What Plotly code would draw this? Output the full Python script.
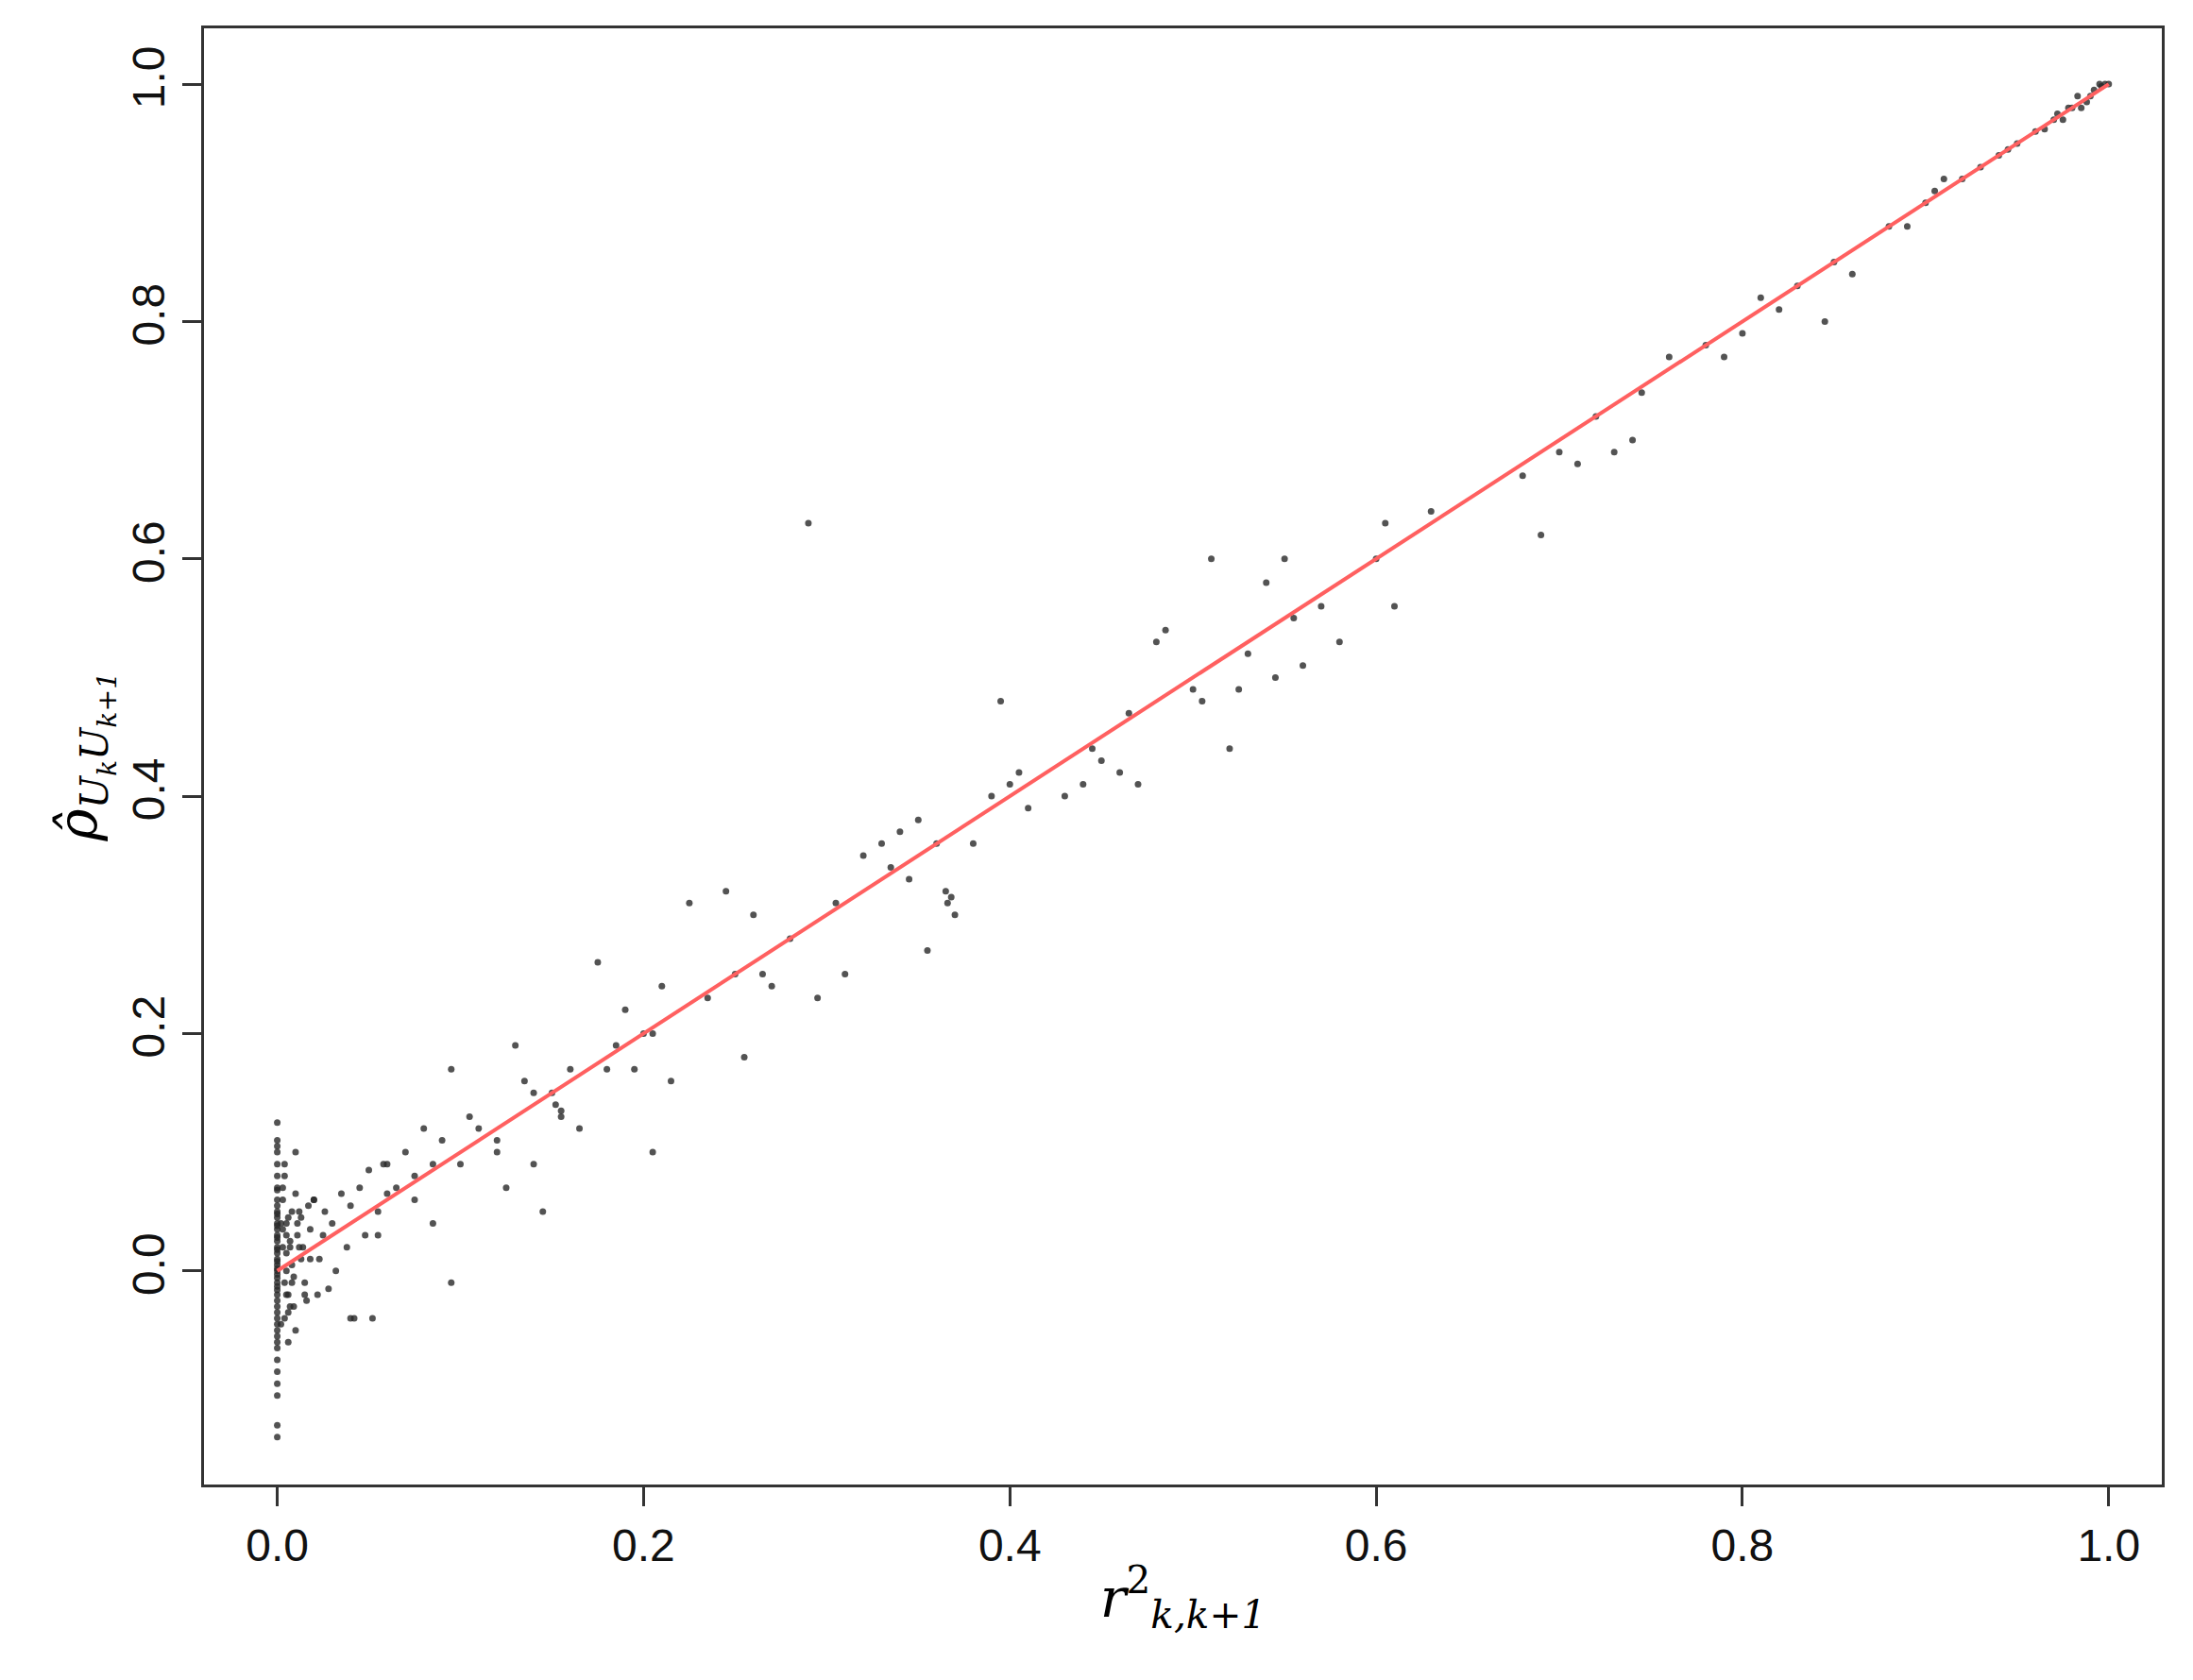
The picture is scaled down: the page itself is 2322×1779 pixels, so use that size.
import plotly.graph_objects as go

# points near x = 0 (vertical cluster)
x0 = [0.0]*48
y0 = [0.125,0.11,0.105,0.1,0.09,0.08,0.07,0.068,0.06,0.055,0.05,0.048,0.045,0.04,0.038,0.035,0.03,0.028,
      0.025,0.02,0.018,0.015,0.01,0.008,0.005,0.002,0.0,-0.003,-0.006,-0.01,-0.013,-0.016,-0.02,-0.025,-0.03,
      -0.035,-0.04,-0.045,-0.05,-0.055,-0.06,-0.065,-0.075,-0.085,-0.095,-0.105,-0.13,-0.14]
# near-zero small spread
x1 = [0.003,0.004,0.005,0.006,0.008,0.01,0.012,0.004,0.006,0.009,0.011,0.013,0.015,0.017,0.02,0.022,0.025,
      0.005,0.007,0.01,0.013,0.016,0.018,0.02,0.023,0.026,0.028,0.03,0.032,0.035,0.038,0.04,0.042,0.045,
      0.048,0.05,0.052,0.055,0.058,0.06,0.003,0.005,0.008,0.011,0.014,0.004,0.007,0.01,0.012,0.015,0.018,
      0.002,0.003,0.004,0.005,0.006,0.007,0.008,0.002,0.003,0.005,0.006,0.009]
y1 = [0.06,0.09,0.03,-0.02,0.05,0.1,0.02,-0.04,-0.06,-0.03,0.04,0.01,-0.01,0.055,0.06,-0.02,0.03,
      0.0,0.02,-0.05,0.045,-0.025,0.035,0.06,0.01,0.05,-0.015,0.04,0.0,0.065,0.02,0.055,-0.04,0.07,
      0.03,0.085,-0.04,0.05,0.09,0.065,0.07,0.04,-0.01,0.03,0.02,0.08,-0.03,0.065,0.05,-0.02,0.01,
      0.04,0.02,-0.01,0.015,-0.035,0.025,0.005,-0.045,0.035,-0.02,0.045,-0.005]
# main body along diagonal
x2 = [0.06,0.065,0.07,0.075,0.08,0.085,0.09,0.095,0.1,0.105,0.11,0.12,0.125,0.13,0.135,0.14,0.145,0.15,
      0.155,0.16,0.165,0.175,0.18,0.185,0.19,0.195,0.2,0.205,0.21,0.215,0.225,0.235,0.245,0.25,0.255,0.26,
      0.265,0.27,0.28,0.295,0.305,0.31,0.32,0.33,0.335,0.34,0.345,0.35,0.355,0.36,0.365,0.37,0.38,0.39,
      0.395,0.4,0.405,0.41,0.43,0.44,0.445,0.45,0.46,0.465,0.47,0.48,0.485,0.5,0.505,0.51,0.52,0.525,
      0.53,0.54,0.545,0.55,0.555,0.56,0.57,0.58,0.6,0.605,0.61,0.63,0.68,0.69,0.7,0.71,0.72,0.73,0.74,
      0.745,0.76,0.78,0.79,0.8,0.81,0.82,0.83,0.845,0.85,0.86,0.88,0.89,0.9,0.905,0.91,0.92,0.93,0.94,
      0.95,0.96,0.97,0.975,0.98,0.985,0.99,0.995,1.0,0.29,0.095,0.205,0.055,0.085,0.14,0.12,0.075,0.04,
      0.945,0.965,0.972,0.978,0.983,0.988,0.992,0.996,0.998,0.366,0.368,0.152,0.155]
y2 = [0.09,0.07,0.1,0.06,0.12,0.04,0.11,0.17,0.09,0.13,0.12,0.1,0.07,0.19,0.16,0.09,0.05,0.15,
      0.13,0.17,0.12,0.26,0.17,0.19,0.22,0.17,0.2,0.1,0.24,0.16,0.31,0.23,0.32,0.25,0.18,0.3,
      0.25,0.24,0.28,0.23,0.31,0.25,0.35,0.36,0.34,0.37,0.33,0.38,0.27,0.36,0.32,0.3,0.36,0.4,
      0.48,0.41,0.42,0.39,0.4,0.41,0.44,0.43,0.42,0.47,0.41,0.53,0.54,0.49,0.48,0.6,0.44,0.49,
      0.52,0.58,0.5,0.6,0.55,0.51,0.56,0.53,0.6,0.63,0.56,0.64,0.67,0.62,0.69,0.68,0.72,0.69,0.7,
      0.74,0.77,0.78,0.77,0.79,0.82,0.81,0.83,0.8,0.85,0.84,0.88,0.88,0.9,0.91,0.92,0.92,0.93,0.94,
      0.95,0.96,0.97,0.97,0.98,0.98,0.99,1.0,1.0,0.63,-0.01,0.2,0.03,0.09,0.15,0.11,0.08,-0.04,
      0.945,0.962,0.975,0.98,0.99,0.985,0.995,0.998,1.0,0.31,0.315,0.14,0.135]

xs = x0 + x1 + x2
ys = y0 + y1 + y2
fit_x = [0.0, 1.0]
fit_y = [0.0, 1.0]

fig = go.Figure()
fig.add_trace(go.Scatter(x=xs, y=ys, mode="markers",
                         marker=dict(size=7, color="rgba(40,40,40,0.8)"), showlegend=False))
fig.add_trace(go.Scatter(x=fit_x, y=fit_y, mode="lines",
                         line=dict(color="#ff6060", width=4), showlegend=False))

axis_common = dict(showgrid=False, zeroline=False, showline=True, mirror=True,
                   linecolor="#333", linewidth=3, ticks="outside", ticklen=20, tickwidth=3,
                   tickcolor="#333", tickfont=dict(family="Liberation Sans, Arial", size=48, color="#111"))
fig.update_xaxes(range=[-0.04, 1.029], tickvals=[0, 0.2, 0.4, 0.6, 0.8, 1.0],
                 ticktext=["0.0", "0.2", "0.4", "0.6", "0.8", "1.0"],
                 title=dict(text="<i>r</i><sup>2</sup><sub><i>k,k+1</i></sub>", standoff=10,
                            font=dict(family="DejaVu Serif", size=58, color="black")), **axis_common)
fig.update_yaxes(range=[-0.18, 1.047], tickvals=[0, 0.2, 0.4, 0.6, 0.8, 1.0],
                 ticktext=["0.0", "0.2", "0.4", "0.6", "0.8", "1.0"], tickangle=-90,
                 title=dict(text="<i>ρ̂</i><sub><i>U<sub>k</sub>U<sub>k+1</sub></i></sub>", standoff=10,
                            font=dict(family="DejaVu Serif", size=58, color="black")), **axis_common)
fig.update_layout(width=2322, height=1779, plot_bgcolor="white", paper_bgcolor="white",
                  margin=dict(l=208, r=41, t=22, b=215))
fig.write_html("out.html")
